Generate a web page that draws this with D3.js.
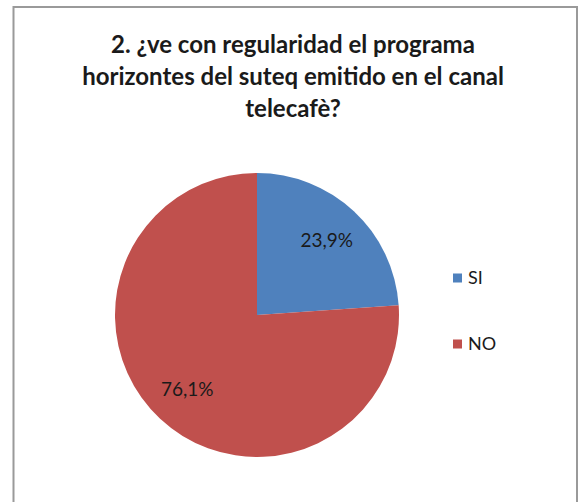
<!DOCTYPE html>
<html>
<head>
<meta charset="utf-8">
<script src="https://cdn.jsdelivr.net/npm/d3@7"></script>
<style>
body { margin: 0; background: #fff; }
</style>
</head>
<body>
<div id="chart"></div>
<script>
var categories = ['SI', 'NO'];
var values = [23.9, 76.1];
var labels = ['23,9%', '76,1%'];
var colors = ['#4F81BD', '#C0504D'];
var titleLines = ['2. ¿ve con regularidad el programa', 'horizontes del suteq emitido en el canal', 'telecafè?'];

var width = 579;
var height = 502;
var cx = 257, cy = 315, radius = 142;

var svg = d3.select('#chart')
	.append('svg')
	.attr('width', width)
	.attr('height', height);

// frame
svg.append('rect')
	.attr('x', 13.5)
	.attr('y', 7)
	.attr('width', 563.5)
	.attr('height', 510)
	.attr('fill', 'none')
	.attr('stroke', '#9a9a9a')
	.attr('stroke-width', 2);

// title
svg.append('g').selectAll('text')
	.data(titleLines)
	.enter()
	.append('text')
	.attr('x', 293)
	.attr('y', function(d, i) { return 53 + i * 32; })
	.attr('text-anchor', 'middle')
	.attr('font-family', 'Lato, "Open Sans", sans-serif')
	.attr('font-weight', 'bold')
	.attr('font-size', 24)
	.attr('fill', '#1a1a1a')
	.text(function(d) { return d; });

var pie = d3.pie().sort(null).value(function(d) { return d; });
var arc = d3.arc().innerRadius(0).outerRadius(radius);
var labelArc = d3.arc().innerRadius(radius * 0.72).outerRadius(radius * 0.72);

var arcs = pie(values);

var g = svg.append('g')
	.attr('transform', 'translate(' + cx + ',' + cy + ')');

g.selectAll('path')
	.data(arcs)
	.enter()
	.append('path')
	.attr('d', arc)
	.attr('fill', function(d, i) { return colors[i]; });

g.selectAll('text')
	.data(arcs)
	.enter()
	.append('text')
	.attr('transform', function(d) { return 'translate(' + labelArc.centroid(d) + ')'; })
	.attr('text-anchor', 'middle')
	.attr('dy', '0.35em')
	.attr('font-family', 'Lato, "Open Sans", sans-serif')
	.attr('font-size', 19)
	.attr('fill', '#1a1a1a')
	.text(function(d, i) { return labels[i]; });

// legend
var legend = svg.append('g').selectAll('g')
	.data(categories)
	.enter()
	.append('g')
	.attr('transform', function(d, i) { return 'translate(453,' + (278 + i * 66) + ')'; });

legend.append('rect')
	.attr('x', 0)
	.attr('y', -4.5)
	.attr('width', 9)
	.attr('height', 9)
	.attr('fill', function(d, i) { return colors[i]; });

legend.append('text')
	.attr('x', 15)
	.attr('dy', '0.36em')
	.attr('font-family', 'Lato, "Open Sans", sans-serif')
	.attr('font-size', 18)
	.attr('fill', '#1a1a1a')
	.text(function(d) { return d; });
</script>
</body>
</html>
